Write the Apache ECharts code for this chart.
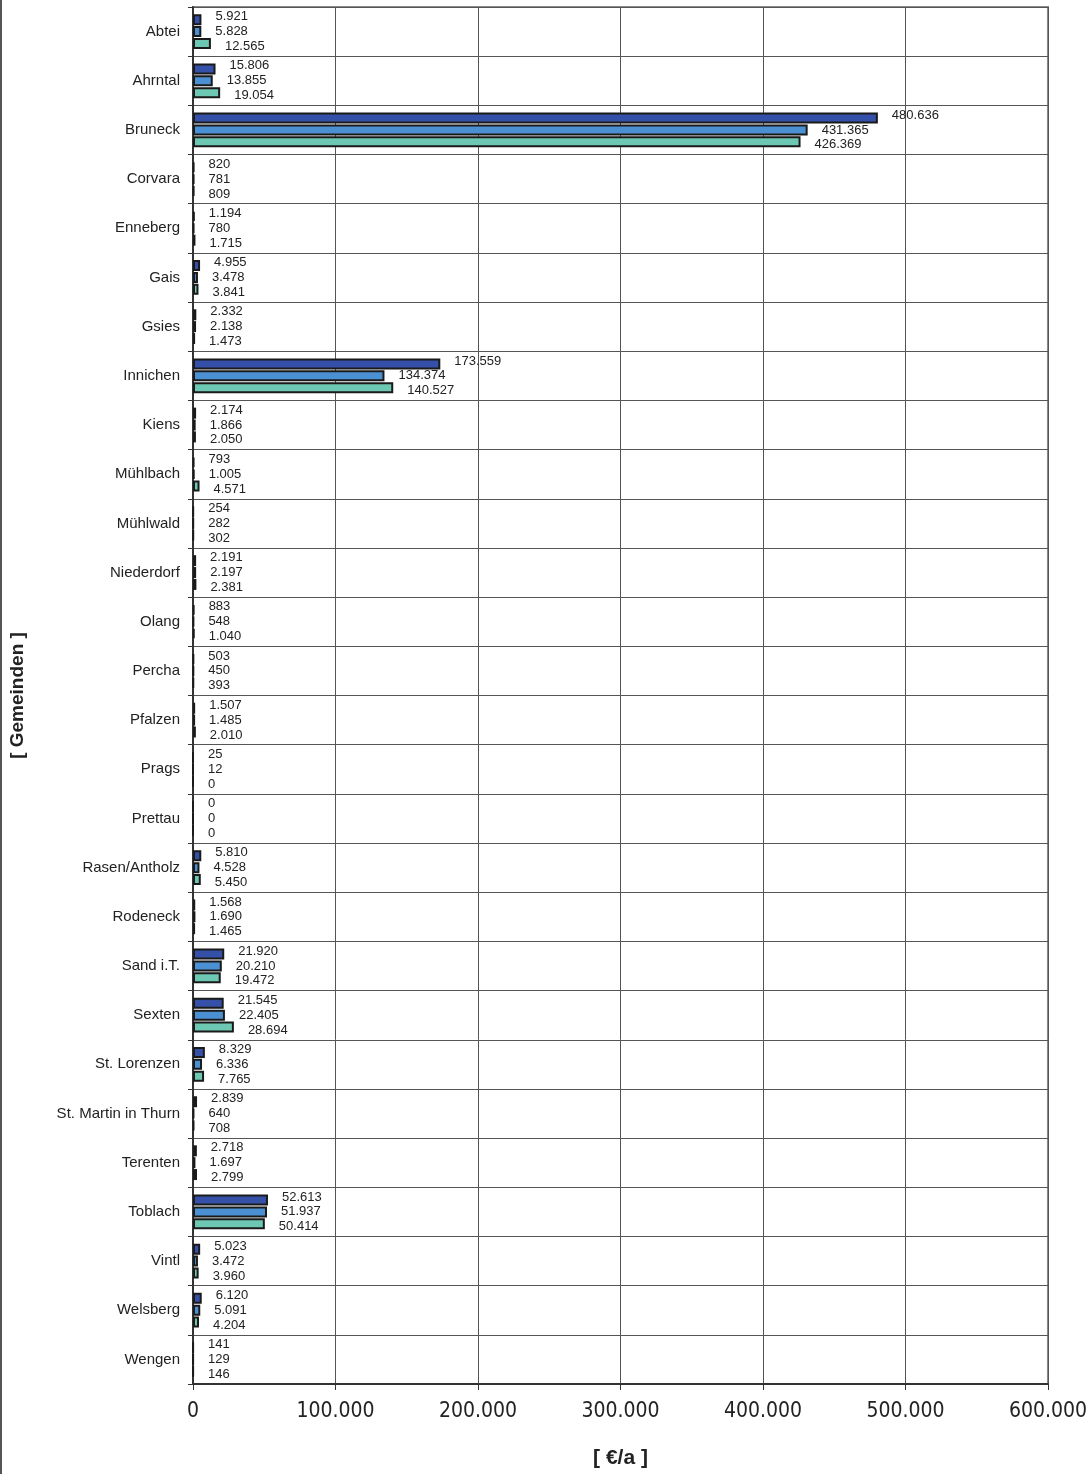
<!DOCTYPE html>
<html><head><meta charset="utf-8">
<script src="https://cdn.jsdelivr.net/npm/echarts@6/dist/echarts.min.js"></script>
<style>html,body{margin:0;padding:0;background:#fff}#c{width:1090px;height:1474px}</style>
</head><body><div id="c"></div>
<script>
const categories = ["Abtei","Ahrntal","Bruneck","Corvara","Enneberg","Gais","Gsies","Innichen","Kiens","Mühlbach","Mühlwald","Niederdorf","Olang","Percha","Pfalzen","Prags","Prettau","Rasen/Antholz","Rodeneck","Sand i.T.","Sexten","St. Lorenzen","St. Martin in Thurn","Terenten","Toblach","Vintl","Welsberg","Wengen"];
const series1 = [5921,15806,480636,820,1194,4955,2332,173559,2174,793,254,2191,883,503,1507,25,0,5810,1568,21920,21545,8329,2839,2718,52613,5023,6120,141];
const series2 = [5828,13855,431365,781,780,3478,2138,134374,1866,1005,282,2197,548,450,1485,12,0,4528,1690,20210,22405,6336,640,1697,51937,3472,5091,129];
const series3 = [12565,19054,426369,809,1715,3841,1473,140527,2050,4571,302,2381,1040,393,2010,0,0,5450,1465,19472,28694,7765,708,2799,50414,3960,4204,146];
const xTicks = [0,100000,200000,300000,400000,500000,600000];
const colors = ["#3550A8","#4A90D2","#6CC8B2"];

function fmt(v){ return String(Math.round(v)).replace(/\B(?=(\d{3})+(?!\d))/g, "."); }

const chart = echarts.init(document.getElementById('c'));
function mk(name, data, color, dy){
  return {
    name, type:'bar', data, barWidth:11, barGap:'8%',
    itemStyle:{color, borderColor:'#1a1a1a', borderWidth:2},
    label:{show:true, position:'right', distance:14, offset:[0,dy], formatter:p=>fmt(p.value),
      fontFamily:'Liberation Sans, Arial, sans-serif', fontSize:13, color:'#222'}
  };
}
chart.setOption({
  animation:false,
  grid:{left:190, right:42, top:7, bottom:88, show:true, borderColor:'#8a8a8a', borderWidth:2, containLabel:false},
  xAxis:{type:'value', min:0, max:600000, interval:100000,
    axisLine:{show:true, lineStyle:{color:'#333', width:2}},
    axisTick:{show:true, length:6, lineStyle:{color:'#333'}},
    splitLine:{show:true, lineStyle:{color:'#555', width:1}},
    axisLabel:{formatter:v=>fmt(v), fontFamily:'Liberation Sans Narrow, DejaVu Sans Condensed, Arial Narrow, sans-serif', fontSize:21, color:'#222', margin:17},
    name:'[ €/a ]', nameLocation:'middle', nameGap:64,
    nameTextStyle:{fontFamily:'Liberation Sans Narrow, Liberation Sans, Arial, sans-serif', fontWeight:'bold', fontSize:21, color:'#222'}
  },
  yAxis:{type:'category', data:categories, inverse:true,
    axisLine:{show:true, lineStyle:{color:'#333', width:2}},
    axisTick:{show:true, length:5, lineStyle:{color:'#333'}},
    splitLine:{show:true, lineStyle:{color:'#555', width:1}},
    axisLabel:{fontFamily:'Liberation Sans, Arial, sans-serif', fontSize:15, color:'#222', margin:13},
    name:'[ Gemeinden ]', nameLocation:'middle', nameGap:166, nameRotate:90,
    nameTextStyle:{fontFamily:'Liberation Sans, Arial, sans-serif', fontWeight:'bold', fontSize:19, color:'#222'}
  },
  graphic:[{type:'line', shape:{x1:1, y1:0, x2:1, y2:1474}, style:{stroke:'#555', lineWidth:2}}],
  series:[mk('A',series1,colors[0],-3), mk('B',series2,colors[1],0), mk('C',series3,colors[2],3)]
});
</script></body></html>
